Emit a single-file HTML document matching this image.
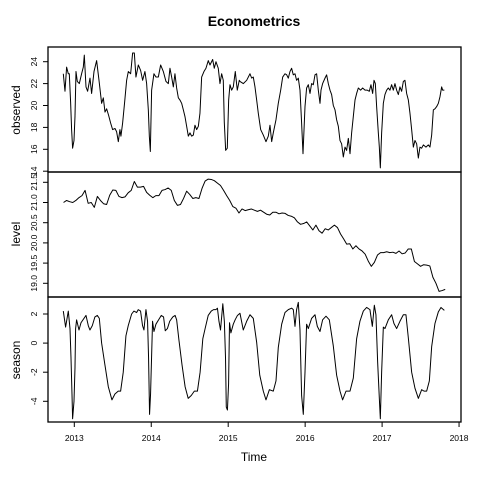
<!DOCTYPE html>
<html><head><meta charset="utf-8">
<style>
html,body{margin:0;padding:0;background:#fff;}
svg{display:block;font-family:"Liberation Sans",Arial,sans-serif;}
</style></head>
<body>
<svg id="chart" width="480" height="480" viewBox="0 0 480 480" xmlns="http://www.w3.org/2000/svg">
<text x="254" y="26" text-anchor="middle" font-size="14" font-weight="bold">Econometrics</text>
<text x="254" y="461" text-anchor="middle" font-size="12">Time</text>
<g id="panels"></g>
</svg>
<script>
const xTicks = [2013, 2014, 2015, 2016, 2017, 2018];
const observedTimes = [2012.857,2012.879,2012.900,2012.922,2012.935,2012.952,2012.965,2012.978,2012.996,2013.009,2013.022,2013.039,2013.065,2013.095,2013.117,2013.130,2013.152,2013.173,2013.204,2013.225,2013.256,2013.290,2013.321,2013.355,2013.377,2013.399,2013.420,2013.446,2013.472,2013.498,2013.529,2013.550,2013.572,2013.593,2013.606,2013.628,2013.654,2013.680,2013.702,2013.732,2013.758,2013.780,2013.801,2013.832,2013.862,2013.888,2013.918,2013.940,2013.962,2013.975,2013.988,2014.005,2014.035,2014.061,2014.092,2014.122,2014.157,2014.191,2014.222,2014.243,2014.265,2014.287,2014.308,2014.330,2014.352,2014.373,2014.395,2014.417,2014.438,2014.460,2014.482,2014.503,2014.525,2014.547,2014.568,2014.590,2014.612,2014.633,2014.655,2014.685,2014.711,2014.741,2014.763,2014.798,2014.819,2014.841,2014.871,2014.893,2014.915,2014.936,2014.949,2014.967,2014.988,2015.006,2015.023,2015.045,2015.066,2015.092,2015.118,2015.144,
2015.153,2015.196,2015.240,2015.283,2015.305,2015.326,2015.348,2015.370,2015.391,2015.422,2015.456,2015.491,2015.521,2015.543,2015.565,2015.586,2015.621,2015.651,2015.682,2015.708,2015.738,2015.760,2015.781,2015.803,2015.824,2015.846,2015.868,2015.889,2015.911,2015.933,2015.954,2015.972,2015.998,2016.019,2016.041,2016.063,2016.084,2016.106,2016.128,2016.149,2016.171,2016.193,2016.206,2016.227,2016.258,2016.279,2016.301,2016.323,2016.344,2016.366,2016.388,2016.409,2016.431,2016.453,2016.474,2016.496,2016.518,2016.539,2016.561,2016.583,2016.604,2016.626,2016.648,2016.669,2016.691,2016.721,2016.747,2016.778,2016.808,2016.834,2016.855,2016.877,2016.895,2016.912,2016.929,2016.951,2016.964,2016.977,2016.994,2017.016,2017.037,2017.059,2017.081,2017.102,2017.124,2017.146,2017.167,2017.189,2017.211,2017.232,2017.254,2017.276,2017.297,2017.319,2017.341,2017.362,2017.384,2017.406,2017.427,2017.449,2017.471,2017.492,2017.514,2017.536,2017.570,2017.601,2017.622,2017.644,2017.666,2017.687,2017.709,2017.731,2017.752,2017.774,2017.787,2017.809];
const observedValues = [22.9,21.3,23.5,22.9,22.9,20.3,17.8,16.1,16.8,19.0,23.1,22.2,22.0,22.9,23.5,24.6,21.7,21.3,22.5,21.1,23.1,24.1,22.3,20.2,20.7,19.4,19.7,19.1,18.4,17.8,17.9,17.6,16.7,17.8,17.2,18.4,20.3,22.3,23.1,22.9,24.8,24.8,22.6,23.7,23.2,22.3,23.1,22.0,19.6,17.2,15.8,21.4,22.9,22.6,22.6,23.7,23.1,22.2,22.0,23.4,22.6,21.7,22.9,21.6,20.7,20.5,20.2,19.6,19.0,18.1,17.2,17.5,17.2,17.3,18.2,17.8,18.1,19.3,22.6,23.1,23.4,24.1,23.7,24.2,23.4,24.0,23.4,22.0,22.9,22.3,18.5,15.9,16.1,20.5,21.9,21.4,21.7,23.1,21.4,22.3,
22.2,22.0,22.3,22.9,22.5,22.6,21.7,20.5,19.3,17.8,17.3,16.7,17.2,18.2,16.7,17.5,18.7,20.2,21.4,22.6,22.9,22.8,22.5,23.1,23.4,22.8,22.9,22.3,22.5,21.4,18.4,15.6,19.9,21.6,21.9,21.1,22.0,21.9,22.8,22.9,21.4,20.2,21.4,22.0,22.5,22.8,22.0,21.4,21.0,20.0,19.6,18.7,18.1,16.8,16.5,15.3,16.2,15.9,17.0,15.6,17.5,19.0,20.5,21.1,21.6,21.4,21.6,21.4,21.4,21.3,21.9,21.1,22.3,22.0,19.9,17.5,16.2,14.3,17.5,20.2,21.0,21.4,21.6,21.4,21.9,21.4,22.0,21.4,21.0,21.7,21.3,22.2,22.3,21.1,20.5,19.3,17.8,16.2,16.8,16.5,15.2,16.2,16.1,16.4,16.2,16.4,16.2,17.3,19.6,19.7,19.9,20.2,20.8,21.7,21.4,21.4];
const levelStart = 2012.86;
const levelStep = 0.04;
const levelValues = [21.0,21.05,21.02,21.0,21.05,21.12,21.17,21.3,20.98,21.0,20.88,21.15,21.05,20.97,20.95,21.18,21.31,21.3,21.15,21.12,21.14,21.24,21.3,21.52,21.38,21.38,21.4,21.25,21.18,21.12,21.17,21.17,21.3,21.32,21.36,21.3,21.05,20.93,20.95,21.1,21.28,21.2,21.1,21.12,21.1,21.35,21.53,21.58,21.57,21.54,21.48,21.42,21.3,21.17,21.05,20.9,20.86,20.74,
20.84,20.8,20.82,20.84,20.81,20.78,20.81,20.76,20.71,20.69,20.76,20.76,20.72,20.74,20.73,20.68,20.66,20.62,20.52,20.46,20.48,20.52,20.42,20.32,20.44,20.3,20.24,20.35,20.32,20.38,20.44,20.38,20.22,20.1,19.97,19.98,19.85,19.93,19.85,19.8,19.72,19.55,19.42,19.52,19.7,19.76,19.76,19.78,19.76,19.77,19.74,19.8,19.73,19.75,19.85,19.85,19.54,19.48,19.42,19.46,19.45,19.43,19.15,19.0,18.8,18.82,18.85];
const seasonTimes = [2012.857,2012.887,2012.922,2012.944,2012.957,2012.970,2012.978,2012.996,2013.009,2013.017,2013.030,2013.061,2013.087,2013.152,2013.182,2013.203,2013.234,2013.268,2013.299,2013.325,2013.355,2013.398,2013.442,2013.489,2013.528,2013.571,2013.602,2013.636,2013.671,2013.701,2013.745,2013.775,2013.810,2013.831,2013.861,2013.887,2013.905,2013.931,2013.952,2013.965,2013.978,2013.991,
2014.004,2014.017,2014.035,2014.061,2014.095,2014.13,2014.16,2014.182,2014.21,2014.24,2014.28,2014.31,2014.33,2014.36,2014.40,2014.44,2014.48,2014.52,2014.56,2014.60,2014.635,2014.67,2014.70,2014.74,2014.78,2014.81,2014.84,2014.86,2014.88,2014.90,2014.93,2014.95,2014.965,2014.975,2014.99,
2015.005,2015.017,2015.035,2015.066,2015.09,2015.12,2015.153,2015.196,2015.240,2015.283,2015.326,2015.370,2015.41,2015.456,2015.491,2015.535,2015.586,2015.621,2015.651,2015.695,2015.738,2015.781,2015.824,2015.846,2015.868,2015.889,2015.911,2015.933,2015.954,2015.976,2015.998,
2016.019,2016.041,2016.084,2016.128,2016.158,2016.193,2016.227,2016.271,2016.314,2016.366,2016.409,2016.453,2016.487,2016.531,2016.583,2016.626,2016.669,2016.712,2016.756,2016.799,2016.842,2016.873,2016.899,2016.920,2016.942,2016.964,2016.977,2016.994,
2017.016,2017.037,2017.081,2017.124,2017.154,2017.189,2017.232,2017.276,2017.310,2017.341,2017.384,2017.427,2017.471,2017.514,2017.545,2017.579,2017.614,2017.644,2017.687,2017.731,2017.765,2017.809];
const seasonValues = [2.2,1.1,2.2,1.0,-1.0,-3.5,-5.2,-4.0,-1.7,1.0,1.6,0.9,1.4,1.9,1.2,0.9,1.2,1.8,1.9,1.7,0.0,-1.5,-3.0,-3.9,-3.5,-3.3,-3.3,-2.0,0.5,1.2,2.0,2.2,2.1,2.3,2.2,1.2,0.9,2.3,1.5,-1.0,-4.9,-3.5,
-1.0,1.5,0.8,1.3,1.6,1.9,1.8,0.85,1.0,1.5,1.8,1.9,1.6,0.2,-1.5,-3.0,-3.8,-3.6,-3.3,-3.3,-2.0,0.3,1.0,1.9,2.2,2.3,2.3,2.4,1.5,0.9,2.7,1.5,-1.0,-4.4,-4.6,
-2.8,1.4,0.7,1.3,1.6,1.9,2.05,0.9,1.5,1.95,1.7,0.05,-2.2,-3.3,-3.9,-3.2,-3.3,-2.6,-0.3,1.3,2.1,2.3,2.4,2.3,1.15,2.3,2.8,0.9,-3.6,-4.9,-2.0,
1.3,1.0,1.7,1.95,1.15,0.8,1.6,1.85,1.6,-0.2,-2.2,-3.3,-3.9,-3.3,-3.3,-2.4,0.3,1.5,2.2,2.45,2.3,1.15,2.6,1.95,-1.3,-3.8,-5.2,-2.0,
1.1,1.0,1.6,1.95,1.35,1.0,1.5,1.95,1.95,0.35,-2.0,-3.1,-3.8,-3.2,-3.3,-3.3,-2.6,-0.25,1.35,2.15,2.45,2.25];
const observedTicks = [14,16,18,20,22,24];
const levelTicks = ["19.0","19.5","20.0","20.5","21.0","21.5"];
const seasonTicks = [-4,-2,0,2];

const NS = "http://www.w3.org/2000/svg";
const g = document.getElementById('panels');
const X0 = 48, X1 = 461;
function xScale(t){ return 74.3 + (t - 2013) * 76.95; }
function mk(tag, attrs){ const e = document.createElementNS(NS, tag); for (const k in attrs) e.setAttribute(k, attrs[k]); return e; }

function yObs(v){ return 61.7 + (24 - v) * 10.95; }
function yLev(v){ return 182.3 + (21.5 - v) * 40.4; }
function ySea(v){ return 314 + (2 - v) * 14.55; }

const panels = [
  {name:'observed', top:47, bot:172, ys:yObs, ticks:observedTicks, labels:observedTicks.map(String), times:observedTimes, vals:observedValues, labelY:110},
  {name:'level', top:172, bot:297, ys:yLev, ticks:levelTicks.map(Number), labels:levelTicks, times:levelValues.map((v,i)=>levelStart+i*levelStep), vals:levelValues, labelY:234},
  {name:'season', top:297, bot:422, ys:ySea, ticks:seasonTicks, labels:seasonTicks.map(String), times:seasonTimes, vals:seasonValues, labelY:360}
];

panels.forEach(p => {
  const pg = mk('g', {});
  
  
  const box = mk('rect', {x:X0, y:p.top, width:X1-X0, height:p.bot-p.top, fill:'none', stroke:'#000', 'stroke-width':1.3});
  
  
  pg.appendChild(box);
  const pts = p.times.map((t,i)=> xScale(t).toFixed(2)+','+p.ys(p.vals[i]).toFixed(2)).join(' ');
  const line = mk('polyline', {points:pts, fill:'none', stroke:'#000', 'stroke-width':1, 'stroke-linejoin':'round'});
  
  
  pg.appendChild(line);
  p.ticks.forEach((v,i) => {
    const y = p.ys(v);
    const tk = mk('line', {x1:X0-5, x2:X0, y1:y, y2:y, stroke:'#000', 'stroke-width':1});
    
    
    pg.appendChild(tk);
    const tx = mk('text', {x:0, y:0, 'font-size':8.5, 'text-anchor':'middle', transform:'translate(37,'+y.toFixed(1)+') rotate(-90)'});
    tx.textContent = p.labels[i];
    
    
    pg.appendChild(tx);
  });
  const axl = mk('line', {x1:X0, x2:X0, y1:p.ys(p.ticks[0]), y2:p.ys(p.ticks[p.ticks.length-1]), stroke:'#000', 'stroke-width':1});
  
  
  pg.appendChild(axl);
  const lab = mk('text', {x:0, y:0, 'font-size':12, 'text-anchor':'middle', transform:'translate(20,'+p.labelY+') rotate(-90)'});
  lab.textContent = p.name;
  
  
  pg.appendChild(lab);
  g.appendChild(pg);
});

xTicks.forEach(t => {
  const x = xScale(t);
  const tk = mk('line', {x1:x, x2:x, y1:422, y2:427, stroke:'#000', 'stroke-width':1});
  
  
  g.appendChild(tk);
  const tx = mk('text', {x:x, y:441, 'font-size':8.5, 'text-anchor':'middle'});
  tx.textContent = String(t);
  
  
  g.appendChild(tx);
});
</script>
</body></html>
